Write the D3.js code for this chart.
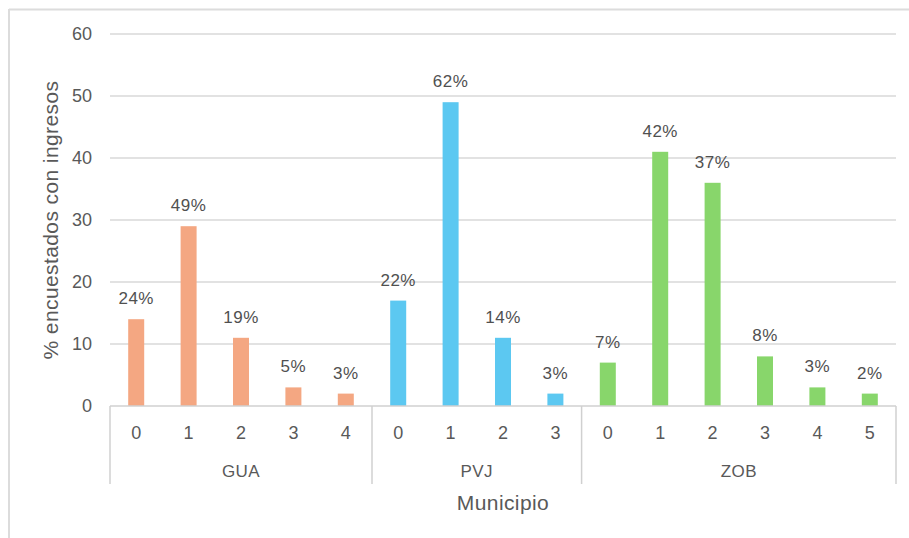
<!DOCTYPE html>
<html>
<head>
<meta charset="utf-8">
<script src="https://cdn.jsdelivr.net/npm/d3@7"></script>
<style>
  html, body { margin: 0; padding: 0; background: #fff; }
  svg { display: block; font-family: "Liberation Sans", Arial, sans-serif; }
</style>
</head>
<body>
<svg id="chart" width="909" height="538"></svg>
<script>
// Respondents by number of income earners, per municipality
const municipios = ["GUA", "PVJ", "ZOB"];
const guaCats = ["0", "1", "2", "3", "4"];
const guaValues = [14, 29, 11, 3, 2];
const pvjCats = ["0", "1", "2", "3"];
const pvjValues = [17, 49, 11, 2];
const zobCats = ["0", "1", "2", "3", "4", "5"];
const zobValues = [7, 41, 36, 8, 3, 2];
const yTicks = [0, 10, 20, 30, 40, 50, 60];
const colors = { GUA: "#F4A782", PVJ: "#5CC8F1", ZOB: "#88D66B" };

const groups = [
  { name: municipios[0], cats: guaCats, values: guaValues },
  { name: municipios[1], cats: pvjCats, values: pvjValues },
  { name: municipios[2], cats: zobCats, values: zobValues }
];

// Flatten to one row per bar, with each bar's share of its municipality
const rows = [];
groups.forEach(g => {
  const total = d3.sum(g.values);
  g.cats.forEach((c, i) => {
    rows.push({ key: g.name + "-" + c, group: g.name, cat: c, value: g.values[i],
                pct: Math.round(100 * g.values[i] / total) });
  });
});

const svg = d3.select("#chart");
const plotL = 110, plotR = 896, plotT = 34, plotB = 406;

const x = d3.scaleBand().domain(rows.map(d => d.key)).range([plotL, plotR]).paddingInner(0).paddingOuter(0);
const y = d3.scaleLinear().domain([0, 60]).range([plotB, plotT]);
const barW = 16;
const textGray = "#595959";

// outer frame
svg.append("line").attr("x1", 9).attr("x2", 909).attr("y1", 9.5).attr("y2", 9.5)
  .attr("stroke", "#dcdcdc").attr("stroke-width", 2);
svg.append("line").attr("x1", 9).attr("x2", 9).attr("y1", 9).attr("y2", 538)
  .attr("stroke", "#dcdcdc").attr("stroke-width", 2);

// gridlines
svg.append("g").selectAll("line").data(yTicks.filter(t => t > 0)).join("line")
  .attr("x1", plotL).attr("x2", plotR)
  .attr("y1", d => y(d)).attr("y2", d => y(d))
  .attr("stroke", "#d9d9d9").attr("stroke-width", 1.5);

// y axis tick labels
svg.append("g").selectAll("text").data(yTicks).join("text")
  .attr("x", 92).attr("y", d => y(d)).attr("dy", "0.35em")
  .attr("text-anchor", "end").attr("font-size", 18).attr("fill", textGray)
  .text(d => d);

// y axis title
svg.append("text")
  .attr("transform", `translate(58,${(plotT + plotB) / 2}) rotate(-90)`)
  .attr("text-anchor", "middle").attr("font-size", 21).attr("letter-spacing", 0.4)
  .attr("fill", textGray)
  .text("% encuestados con ingresos");

// bars
svg.append("g").selectAll("rect").data(rows).join("rect")
  .attr("x", d => x(d.key) + x.bandwidth() / 2 - barW / 2)
  .attr("width", barW)
  .attr("y", d => y(d.value))
  .attr("height", d => y(0) - y(d.value))
  .attr("fill", d => colors[d.group]);

// value labels
svg.append("g").selectAll("text").data(rows).join("text")
  .attr("x", d => x(d.key) + x.bandwidth() / 2)
  .attr("y", d => y(d.value) - 15)
  .attr("text-anchor", "middle").attr("font-size", 17).attr("letter-spacing", 0.5)
  .attr("fill", "#505050")
  .text(d => d.pct + "%");

// baseline
svg.append("line").attr("x1", plotL).attr("x2", plotR).attr("y1", plotB).attr("y2", plotB)
  .attr("stroke", "#d0d0d0").attr("stroke-width", 1.5);

// category labels
svg.append("g").selectAll("text").data(rows).join("text")
  .attr("x", d => x(d.key) + x.bandwidth() / 2).attr("y", 433).attr("dy", "0.35em")
  .attr("text-anchor", "middle").attr("font-size", 18).attr("fill", textGray)
  .text(d => d.cat);

// group separators and group labels
const bounds = groups.map(g => {
  const first = x(g.name + "-" + g.cats[0]);
  const last = x(g.name + "-" + g.cats[g.cats.length - 1]) + x.bandwidth();
  return { name: g.name, x0: first, x1: last };
});
const sepX = [bounds[0].x0].concat(bounds.map(b => b.x1));
svg.append("g").selectAll("line").data(sepX).join("line")
  .attr("x1", d => d).attr("x2", d => d).attr("y1", plotB).attr("y2", 484)
  .attr("stroke", "#d0d0d0").attr("stroke-width", 1.5);
svg.append("g").selectAll("text").data(bounds).join("text")
  .attr("x", d => (d.x0 + d.x1) / 2).attr("y", 471).attr("dy", "0.35em")
  .attr("text-anchor", "middle").attr("font-size", 17).attr("letter-spacing", 0.4)
  .attr("fill", textGray)
  .text(d => d.name);

// x axis title
svg.append("text")
  .attr("x", (plotL + plotR) / 2).attr("y", 503).attr("dy", "0.35em")
  .attr("text-anchor", "middle").attr("font-size", 21).attr("letter-spacing", 0.4)
  .attr("fill", textGray)
  .text("Municipio");
</script>
</body>
</html>
